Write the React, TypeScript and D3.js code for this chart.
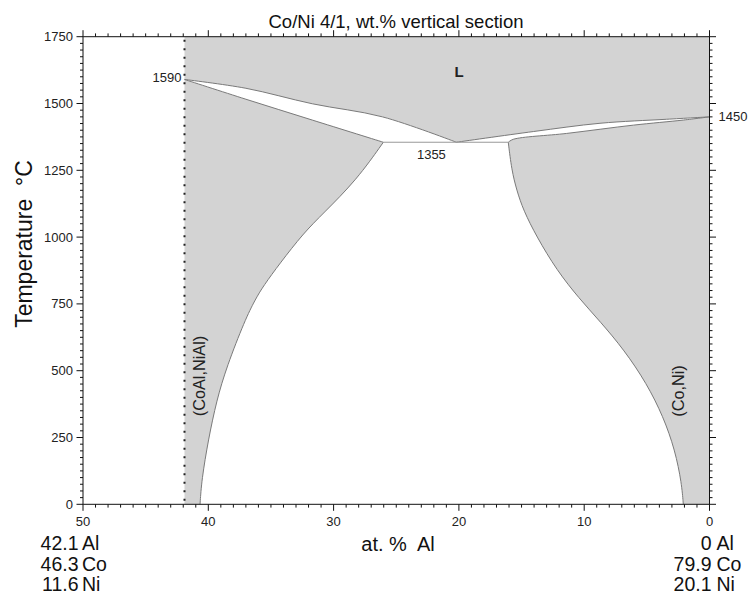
import React from "react";
import * as d3 from "d3";

type P = [number, number];

// at.% Al, temperature °C
const liquidusLeft: P[] = [[41.9, 1590], [37.0, 1557], [31.7, 1499], [26.1, 1450], [20.2, 1355]];
const solidusLeft: P[] = [[41.9, 1590], [37.0, 1516], [31.7, 1438], [26.03, 1355]];
const liquidusRight: P[] = [[20.2, 1355], [14.06, 1395], [8.74, 1426], [3.42, 1441], [0, 1450]];
const solidusRight: P[] = [[16.06, 1355], [15.66, 1366], [11.4, 1388], [6.08, 1419], [2.09, 1438], [0, 1450]];
const solvusLeft: P[] = [[26.03, 1355], [28.16, 1214], [30.82, 1089], [32.42, 1014], [34.28, 902], [35.61, 817], [36.27, 765], [37.07, 690], [38.53, 515], [39.33, 390], [40.0, 241], [40.53, 91], [40.66, 0]];
const solvusRight: P[] = [[16.06, 1355], [15.79, 1251], [15.39, 1176], [14.86, 1101], [13.79, 1001], [12.19, 876], [10.4, 770], [8.74, 685], [6.8, 577], [5.01, 452], [3.69, 328], [2.75, 203], [2.22, 78], [2.09, 0]];
const eutecticLine: P[] = [[26.03, 1355], [16.06, 1355]];
const sectionEnd = 41.9;

const xMajor = [50, 40, 30, 20, 10, 0];
const xMinor = d3.range(0, 51, 1);
const yMajor = [0, 250, 500, 750, 1000, 1250, 1500, 1750];
const yMinor = d3.range(0, 1751, 25);

const leftComp = [["42.1", "Al"], ["46.3", "Co"], ["11.6", "Ni"]];
const rightComp = [["0", "Al"], ["79.9", "Co"], ["20.1", "Ni"]];

const pointLabels = [
  { v: 41.9, t: 1590, text: "1590", anchor: "end", dx: -3, dy: 2.5 },
  { v: 20.2, t: 1355, text: "1355", anchor: "middle", dx: -25, dy: 16.5 },
  { v: 0, t: 1450, text: "1450", anchor: "start", dx: 9, dy: 4 },
];

const FONT = "'Liberation Sans', Arial, Helvetica, sans-serif";

export default function App() {
  const x = d3.scaleLinear().domain([50, 0]).range([83, 709.5]);
  const y = d3.scaleLinear().domain([0, 1750]).range([504.3, 36.7]);
  const line = d3.line<P>().x((d) => x(d[0])).y((d) => y(d[1])).curve(d3.curveCatmullRom.alpha(0.5));
  const smooth = d3.line<P>().x((d) => x(d[0])).y((d) => y(d[1])).curve(d3.curveBasis);
  const straight = d3.line<P>().x((d) => x(d[0])).y((d) => y(d[1]));

  const seg = (gen: d3.Line<P>, pts: P[], first = false) => {
    const s = gen(pts) || "";
    return first ? s : s.replace(/^M/, "L");
  };
  const rev = (pts: P[]) => pts.slice().reverse();

  const liquidArea =
    `M${x(sectionEnd)},${y(1750)}L${x(0)},${y(1750)}` +
    seg(line, rev(liquidusRight)) +
    seg(line, rev(liquidusLeft)) +
    "Z";
  const leftArea = seg(line, solidusLeft, true) + seg(smooth, solvusLeft) + `L${x(sectionEnd)},${y(0)}Z`;
  const rightArea = seg(line, rev(solidusRight), true) + seg(smooth, solvusRight) + `L${x(0)},${y(0)}Z`;

  const x0 = x(50), x1 = x(0), y0 = y(0), y1 = y(1750);
  const fill = "#d3d3d3";
  const edge = "#7a7a7a";
  const compY = [550, 570.5, 591];

  return (
    <svg width={750} height={597} style={{ position: "absolute", left: 0, top: 0, background: "#fff" }} fontFamily={FONT}>
      <rect x={0} y={0} width={750} height={597} fill="#fff" />
      <path d={liquidArea} fill={fill} stroke="none" />
      <path d={leftArea} fill={fill} stroke="none" />
      <path d={rightArea} fill={fill} stroke="none" />
      {[liquidusLeft, liquidusRight, solidusLeft, solidusRight].map((pts, i) => (
        <path key={i} d={line(pts) || ""} fill="none" stroke={edge} strokeWidth={1} />
      ))}
      {[solvusLeft, solvusRight].map((pts, i) => (
        <path key={"s" + i} d={smooth(pts) || ""} fill="none" stroke={edge} strokeWidth={1} />
      ))}
      <path d={straight(eutecticLine) || ""} fill="none" stroke="#999" strokeWidth={1} />
      <line x1={x(sectionEnd)} x2={x(sectionEnd)} y1={y1 + 3} y2={y0} stroke="#222" strokeWidth={2} strokeDasharray="2,6.5" />

      <rect x={x0} y={y1} width={x1 - x0} height={y0 - y1} fill="none" stroke="#111" strokeWidth={1} />

      {xMinor.map((v) => {
        const major = xMajor.includes(v);
        const len = major ? 6.5 : 3.3;
        return (
          <g key={"x" + v} stroke="#111" strokeWidth={1}>
            <line x1={x(v)} x2={x(v)} y1={y0} y2={y0 + len} />
            <line x1={x(v)} x2={x(v)} y1={y1} y2={y1 - len} />
          </g>
        );
      })}
      {yMinor.map((t) => {
        const major = yMajor.includes(t);
        const len = major ? 6.5 : 3;
        return (
          <g key={"y" + t} stroke="#111" strokeWidth={1}>
            <line x1={x0} x2={x0 - len} y1={y(t)} y2={y(t)} />
            <line x1={x1} x2={x1 + len} y1={y(t)} y2={y(t)} />
          </g>
        );
      })}
      {xMajor.map((v) => (
        <text key={"xl" + v} x={x(v)} y={y0 + 21.5} textAnchor="middle" fontSize={13} fill="#222">
          {v}
        </text>
      ))}
      {yMajor.map((t) => (
        <text key={"yl" + t} x={x0 - 10} y={y(t) + 4.5} textAnchor="end" fontSize={13} fill="#222">
          {t}
        </text>
      ))}

      <text x={396} y={28} textAnchor="middle" fontSize={18.5} fill="#111">
        Co/Ni 4/1, wt.% vertical section
      </text>
      <text transform={`translate(32,244) rotate(-90)`} textAnchor="middle" fontSize={23} fill="#111" style={{ whiteSpace: "pre" }}>
        Temperature  °C
      </text>
      <text x={398} y={551} textAnchor="middle" fontSize={20} fill="#111" style={{ whiteSpace: "pre" }}>
        at. %  Al
      </text>

      {leftComp.map(([n, e], i) => (
        <g key={"lc" + i} fontSize={19.5} fill="#111">
          <text x={78.5} y={compY[i]} textAnchor="end">{n}</text>
          <text x={82} y={compY[i]}>{e}</text>
        </g>
      ))}
      {rightComp.map(([n, e], i) => (
        <g key={"rc" + i} fontSize={19.5} fill="#111">
          <text x={711.5} y={compY[i]} textAnchor="end">{n}</text>
          <text x={716.5} y={compY[i]}>{e}</text>
        </g>
      ))}

      {pointLabels.map((p) => (
        <text key={p.text} x={x(p.v) + p.dx} y={y(p.t) + p.dy} textAnchor={p.anchor as any} fontSize={13} fill="#222">
          {p.text}
        </text>
      ))}

      <text x={459} y={77} textAnchor="middle" fontSize={15} fontWeight="bold" fill="#222">L</text>
      <text transform={`translate(205,376) rotate(-90)`} textAnchor="middle" fontSize={16.3} fill="#222">
        (CoAl,NiAl)
      </text>
      <text transform={`translate(683.5,391) rotate(-90)`} textAnchor="middle" fontSize={16.3} fill="#222">
        (Co,Ni)
      </text>
    </svg>
  );
}
